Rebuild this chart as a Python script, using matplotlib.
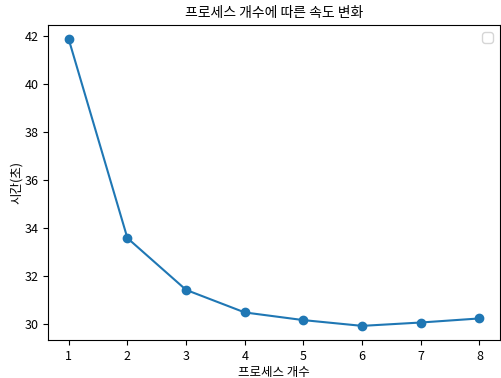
import matplotlib
matplotlib.use("Agg")
import matplotlib.pyplot as plt

plt.rcParams['font.family'] = ['Noto Sans CJK KR', 'DejaVu Sans']
plt.rcParams['axes.unicode_minus'] = False

# process count vs elapsed time
procs = [1, 2, 3, 4, 5, 6, 7, 8]
times = [41.87, 33.58, 31.42, 30.48, 30.16, 29.92, 30.06, 30.23]

fig = plt.figure(figsize=(5.02, 3.78), dpi=100)
ax = fig.add_axes([0.096, 0.1, 0.9, 0.834])
ax.plot(procs, times, marker='o', color='#1f77b4')
ax.set_title('프로세스 개수에 따른 속도 변화', fontsize=10)
ax.set_xlabel('프로세스 개수', fontsize=9, labelpad=2)
ax.set_ylabel('시간(초)', fontsize=9, labelpad=1)
ax.tick_params(labelsize=9)
ax.legend(handles=[], loc='upper right')

fig.savefig('out.png', dpi=100)
